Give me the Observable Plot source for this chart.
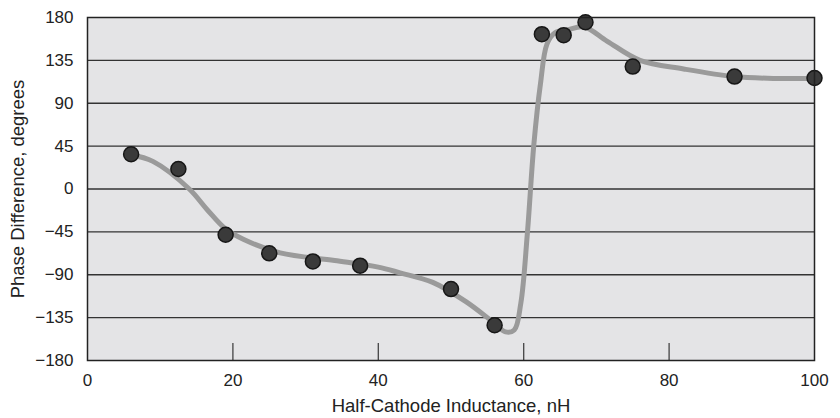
<!DOCTYPE html>
<html>
<head>
<meta charset="utf-8">
<script src="https://cdn.jsdelivr.net/npm/d3@7"></script>
<script src="https://cdn.jsdelivr.net/npm/@observablehq/plot@0.6"></script>
<style>
  body { margin: 0; background: #fff; }
</style>
</head>
<body>
<div id="chart"></div>
<script>
// Measured data points (Half-Cathode Inductance nH, Phase Difference degrees)
const pointX = [6, 12.5, 19, 25, 31, 37.5, 50, 56, 62.5, 65.5, 68.5, 75, 89, 100];
const pointY = [36.5, 21, -48, -67.5, -76, -80.5, -105, -143, 162.5, 161.5, 175, 128.5, 118, 116.5];

// Smooth fitted curve
const curveX = [6, 9, 14, 16.5, 19, 21.5, 26.5, 34, 40, 43, 47.5, 52, 55.5, 57.5, 58.7, 59.6, 60.5, 61.4, 62.3, 63.2, 64.3, 66, 68.3, 71.5, 76, 82, 89, 95, 100];
const curveY = [36, 29, 0, -22, -42, -53, -67, -75, -82, -88, -98, -118, -138, -150, -148, -120, -47, 47, 110, 152, 164, 167, 170, 155, 135, 126, 118, 116, 116];

const xTicks = [0, 20, 40, 60, 80, 100];
const innerXTicks = [20, 40, 60, 80];
const yTicks = [-180, -135, -90, -45, 0, 45, 90, 135, 180];
const gridY = [-135, -90, -45, 0, 45, 90, 135];
const xTitle = "Half-Cathode Inductance, nH";
const yTitle = "Phase Difference, degrees";

const points = pointX.map((x, i) => ({x, y: pointY[i]}));
const curve = curveX.map((x, i) => ({x, y: curveY[i]}));

const chart = Plot.plot({
  width: 840,
  height: 418,
  marginLeft: 87,
  marginRight: 26,
  marginTop: 17,
  marginBottom: 58,
  style: {fontFamily: "'Liberation Sans', Arial, sans-serif", fontSize: "17px", color: "#222", background: "#fff"},
  x: {domain: [0, 100]},
  y: {domain: [-180, 180]},
  marks: [
    Plot.frame({fill: "#e4e4e6", stroke: "none"}),
    Plot.ruleY(gridY, {stroke: "#333", strokeWidth: 1.3}),
    Plot.tickX(innerXTicks, {x: d => d, insetTop: 326, stroke: "#444", strokeWidth: 1.3}),
    Plot.line(curve, {x: "x", y: "y", curve: "catmull-rom", stroke: "#9a9a9a", strokeWidth: 5, strokeLinecap: "round", strokeLinejoin: "round"}),
    Plot.dot(points, {x: "x", y: "y", r: 7.5, fill: "#3a3a3a", stroke: "#161616", strokeWidth: 1.5}),
    Plot.frame({stroke: "#222", strokeWidth: 1.5}),
    Plot.axisY({ticks: yTicks, tickSize: 0, tickPadding: 14, fontSize: 17, fill: "#222", label: null}),
    Plot.axisY({ticks: [], tickSize: 0, fontSize: 18.5, fill: "#222", label: yTitle, labelAnchor: "center", labelArrow: "none", labelOffset: 77}),
    Plot.axisX({ticks: xTicks, tickSize: 0, tickPadding: 13, fontSize: 17, fill: "#222", label: null}),
    Plot.axisX({ticks: [], tickSize: 0, fontSize: 18.5, fill: "#222", label: xTitle, labelAnchor: "center", labelArrow: "none", labelOffset: 51})
  ]
});
document.getElementById("chart").appendChild(chart);
</script>
</body>
</html>
